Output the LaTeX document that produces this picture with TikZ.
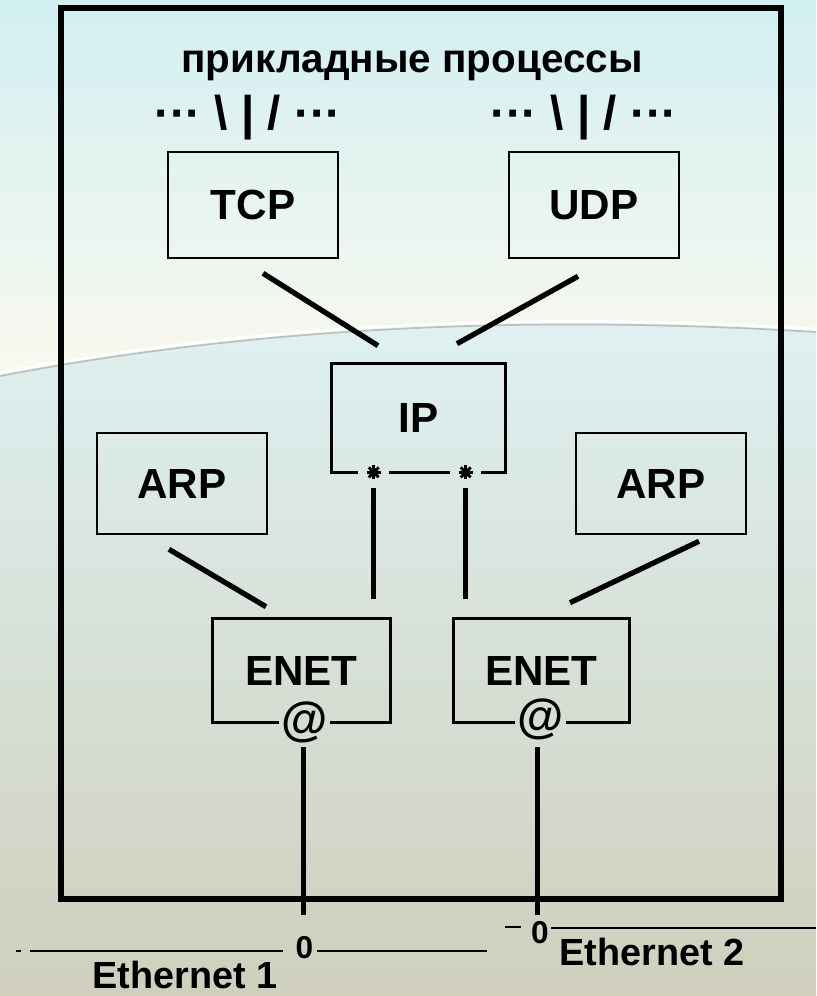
\documentclass[tikz,border=0pt]{standalone}
\usepackage{fontspec}
\setmainfont{Liberation Sans}
\usetikzlibrary{calc}

\definecolor{cieloalto}{HTML}{D2EFF1}
\definecolor{crema}{HTML}{FAF9EF}
\definecolor{cielobasso}{HTML}{DFF1F2}
\definecolor{salvia}{HTML}{D8E2D8}
\definecolor{sabbia}{HTML}{CFCFBC}
\definecolor{bordoarco}{HTML}{B9C2BE}

\begin{document}
\begin{tikzpicture}[x=0.02cm, y=-0.02cm,
    cornice/.style={line width=3.4pt},
    bordo/.style={line width=1.5pt},
    link/.style={line width=3pt},
    bus/.style={line width=1.3pt},
    blocco/.style={draw, line width=1.5pt, minimum width=3.4cm, minimum height=2.12cm,
        inner sep=0pt, font=\fontsize{24}{28}\selectfont\bfseries},
    porta/.style={circle, minimum size=0.6cm, inner sep=0pt},
    chiocciola/.style={inner sep=0pt, inner xsep=1pt, font=\fontsize{27}{30}\selectfont\bfseries},
    presa/.style={inner sep=0pt, font=\fontsize{18}{20}\selectfont\bfseries},
    etichetta/.style={inner sep=0pt, font=\fontsize{21.5}{26}\selectfont\bfseries},
    titolo/.style={inner sep=0pt, font=\fontsize{23}{28}\selectfont\bfseries}]

    % Sfondo
    \useasboundingbox (0,0) rectangle (816,996);
    \shade[top color=cieloalto, bottom color=crema] (0,0) rectangle (816,380);
    \shade[top color=cielobasso, middle color=salvia, bottom color=sabbia]
        (0,376) .. controls (250,328) and (520,314) .. (816,332) -- (816,996) -- (0,996) -- cycle;
    \draw[white, line width=1.5pt] (0,373) .. controls (250,325) and (520,311) .. (816,329);
    \draw[bordoarco, line width=1pt] (0,376) .. controls (250,328) and (520,314) .. (816,332);

    % Cornice dell'host
    \draw[cornice] (61,8) rectangle (781,899);

    % Processi applicativi
    \node[titolo, anchor=base] (app) at (412,73) {прикладные процессы};
    \node[titolo, font=\fontsize{27}{30}\selectfont\bfseries] (fan1) at (248,118)
        {···\hspace{0.28em}\textbackslash\hspace{0.28em}|\hspace{0.28em}/\hspace{0.28em}···};
    \node[titolo, font=\fontsize{27}{30}\selectfont\bfseries] (fan2) at (584,118)
        {···\hspace{0.28em}\textbackslash\hspace{0.28em}|\hspace{0.28em}/\hspace{0.28em}···};

    % Moduli
    \node[blocco] (tcp) at (253,205) {TCP};
    \node[blocco] (udp) at (594,205) {UDP};
    \node[blocco, draw=none, minimum width=3.42cm] (ip) at (418.5,418) {IP};
    \node[blocco, minimum height=2.02cm] (arpL) at (182,483.5) {ARP};
    \node[blocco, minimum height=2.02cm] (arpR) at (661,483.5) {ARP};
    \node[blocco, draw=none, minimum width=3.5cm, minimum height=2.02cm] (enet1) at (301.5,670.5) {ENET};
    \node[blocco, draw=none, minimum width=3.46cm, minimum height=2.02cm] (enet2) at (541.5,670.5) {ENET};

    % Porte di IP
    \node[porta] (p1) at ($(ip.south west)+(42,0)$) {};
    \node[porta] (p2) at ($(ip.south west)+(134,0)$) {};
    \draw[bordo] (p1.west) -- (ip.south west) -- (ip.north west) -- (ip.north east) -- (ip.south east) -- (p2.east);
    \draw[bordo] (p1.east) -- (p2.west);
    \foreach \p in {p1,p2} {
        \fill (\p.center) circle (2.6pt);
        \foreach \a in {0,45,...,315}
            \draw[line width=1.6pt] (\p.center) -- ++(\a:7);
    }

    % Indirizzi Ethernet
    \node[chiocciola] (at1) at ($(enet1.south west)+(92,0)$) {@};
    \node[chiocciola] (at2) at ($(enet2.south west)+(87,-3)$) {@};
    \draw[bordo] (at1.west |- enet1.south) -- (enet1.south west) -- (enet1.north west)
        -- (enet1.north east) -- (enet1.south east) -- (at1.east |- enet1.south);
    \draw[bordo] (at2.west |- enet2.south) -- (enet2.south west) -- (enet2.north west)
        -- (enet2.north east) -- (enet2.south east) -- (at2.east |- enet2.south);

    % Collegamenti
    \draw[link] ($(tcp.south)+(10,14)$) -- ($(ip.north)+(-40.5,-18)$);
    \draw[link] ($(udp.south)+(-16,17)$) -- ($(ip.north)+(38.5,-20)$);
    \draw[link] ($(arpL.south)+(-13,14)$) -- ($(enet1.north)+(-35.5,-12)$);
    \draw[link] ($(arpR.south)+(38,6)$) -- ($(enet2.north)+(28.5,-16)$);
    \draw[link, shorten >=0.4cm] (p1.south) -- (p1.south |- enet1.north);
    \draw[link, shorten >=0.4cm] (p2.south) -- (p2.south |- enet2.north);

    % Reti Ethernet
    \node[presa] (tap1) at (304.5,948) {0};
    \node[presa] (tap2) at (540,933) {0};
    \coordinate (giu1) at ($(enet1.south west)+(91,25)$);
    \coordinate (giu2) at ($(enet2.south west)+(84,25)$);
    \draw[link, shorten >=0.42cm] (giu1) -- (giu1 |- tap1.north);
    \draw[link, shorten >=0.13cm] (giu2) -- (giu2 |- tap2.north);

    \coordinate (lan1w) at (30,951);
    \coordinate (lan1e) at (487,951);
    \draw[bus] (16,951) -- (21,951);
    \draw[bus] (lan1w) -- ([xshift=-7pt]tap1.west |- lan1w);
    \draw[bus] ([xshift=2pt]tap1.east |- lan1e) -- (lan1e);
    \coordinate (lan2e) at (816,928);
    \draw[bus] (505,927) -- (521,927);
    \draw[bus] ([xshift=1pt]tap2.east |- lan2e) -- (lan2e);

    \node[etichetta] (lan1) at (185,975) {Ethernet 1};
    \node[etichetta] (lan2) at (652,952) {Ethernet 2};
\end{tikzpicture}
\end{document}
